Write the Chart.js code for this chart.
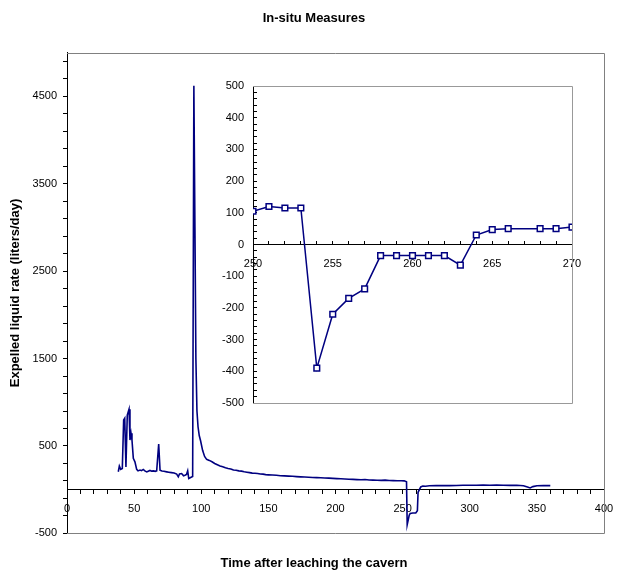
<!DOCTYPE html>
<html><head><meta charset="utf-8">
<script src="https://cdn.jsdelivr.net/npm/chart.js@4/dist/chart.umd.min.js"></script>
<style>
html,body{margin:0;padding:0;background:#fff;}
#wrap{position:relative;width:620px;height:579px;overflow:hidden;}
#main{position:absolute;left:0;top:0;}
#inset{position:absolute;left:215px;top:76px;}
</style></head><body>
<div id="wrap"><canvas id="main" width="620" height="579"></canvas><canvas id="inset" width="375" height="340"></canvas></div>
<script>
// ---- data ----
const mainTimes = [38.2,39.0,40.0,41.2,42.2,43.0,43.9,44.9,46.2,46.9,47.7,48.4,49.4,50.6,51.9,52.9,54.4,55.5,56.8,58.0,59.4,60.5,61.8,63.0,64.5,65.7,66.8,68.3,69.3,70.7,72.2,74.3,75.8,77.8,79.8,81.7,82.9,83.8,85.4,86.8,87.9,89.0,89.9,90.7,92.1,93.6,94.5,95.3,96.0,96.8,97.6,98.5,99.5,101.0,102.5,104.0,106.0,108.0,110.0,112.0,114.0,116.0,118.0,120.0,122.0,124.0,126.0,128.0,130.0,132.0,134.0,136.0,138.0,140.0,142.0,144.0,146.0,148.0,150.0,153.0,156.0,159.0,162.0,165.0,168.0,171.0,174.0,177.0,180.0,183.0,186.0,189.0,192.0,195.0,198.0,201.0,204.0,207.0,210.0,213.0,216.0,219.0,222.0,225.0,228.0,231.0,234.0,237.0,240.0,243.0,246.0,249.0,251.2,252.9,253.4,254.9,255.6,257.5,259.8,261.0,261.5,263.5,265,267,270,275,280,285,290,295,300,305,310,315,320,325,330,335,340,343,345,347,350,355,360];
const mainRates = [205,270,232,243,797,817,261,854,920,568,645,568,358,319,232,215,224,218,232,215,204,212,220,212,215,210,216,522,224,214,210,204,200,195,190,178,147,180,185,160,166,175,216,128,139,150,4620,3000,1500,900,720,620,560,450,380,347,335,320,300,285,270,262,250,243,237,225,222,215,212,205,200,195,190,188,185,180,178,172,170,168,165,160,158,155,153,150,147,145,143,140,138,137,134,132,129,127,125,122,120,118,115,113,116,110,109,108,107,109,106,104,103,102,101,90,-400,-292,-273,-266,-266,-240,-30,32,42,40,45,47,48,46,48,50,51,50,52,50,52,51,49,50,45,30,20,35,45,48,47];
const insetDays = [250,251,252,253,254,255,256,257,258,259,260,261,262,263,264,265,266,268,269,270];
const insetRates = [105,120,115,115,-390,-220,-170,-140,-35,-35,-35,-35,-35,-65,30,47,50,50,50,55];
const mainXLabels = [0,50,100,150,200,250,300,350,400];
const mainYLabels = [-500,500,1500,2500,3500,4500];
const insetXLabels = [250,255,260,265,270];
const insetYLabels = [-500,-400,-300,-200,-100,0,100,200,300,400,500];

const NAVY = '#000080';
const FONT = "'Liberation Sans', Arial, sans-serif";
Chart.defaults.font.family = FONT;
Chart.defaults.color = '#000';

function stepTicks(min, max, step){ const t=[]; for(let v=min; v<=max+1e-9; v+=step) t.push({value: Math.round(v*1000)/1000}); return t; }
function noPad(s){ s.paddingLeft = 0; s.paddingRight = 0; s.paddingTop = 0; s.paddingBottom = 0; }

const frame = {
  id: 'frame',
  beforeDatasetsDraw(chart, args, opts){
    const {ctx, chartArea: a} = chart;
    ctx.save();
    ctx.strokeStyle = opts.color || '#808080';
    ctx.lineWidth = 1;
    ctx.beginPath();
    ctx.moveTo(a.left, Math.round(a.top)+0.5);
    ctx.lineTo(Math.round(a.right)+0.5, Math.round(a.top)+0.5);
    ctx.lineTo(Math.round(a.right)+0.5, Math.round(a.bottom)+0.5);
    if (opts.bottom) ctx.lineTo(a.left, Math.round(a.bottom)+0.5);
    ctx.stroke();
    ctx.restore();
  }
};

new Chart(document.getElementById('main'), {
  type: 'line',
  data: { datasets: [{
    data: mainTimes.map((t,i)=>({x:t, y:mainRates[i]})),
    borderColor: NAVY, borderWidth: 1.6, pointRadius: 0, tension: 0, fill: false
  }]},
  plugins: [frame],
  options: {
    responsive: false, animation: false, devicePixelRatio: 1,
    layout: { padding: { left: 8, right: 0, top: 0, bottom: 0 } },
    plugins: {
      legend: { display: false }, tooltip: { enabled: false },
      frame: { color: '#808080', bottom: true },
      title: { display: true, text: 'In-situ Measures', color: '#000',
        font: { size: 13, weight: 'bold', family: FONT }, padding: { top: 11, bottom: 26 } },
      subtitle: { display: true, position: 'bottom', text: 'Time after leaching the cavern', color: '#000',
        font: { size: 13, weight: 'bold', family: FONT }, padding: { top: 22, bottom: 8 } }
    },
    scales: {
      x: {
        type: 'linear', min: 0, max: 400, position: { y: 0 },
        afterBuildTicks: s => { s.ticks = stepTicks(0, 400, 10); },
        afterFit: s => { s.height = 0; noPad(s); },
        grid: { drawOnChartArea: false, drawTicks: true, tickLength: 4, color: '#000' },
        border: { display: true, color: '#000', width: 1 },
        ticks: { autoSkip: false, maxRotation: 0, padding: 9, font: { size: 11 },
          callback: v => mainXLabels.includes(v) ? String(v) : '' }
      },
      y: {
        type: 'linear', min: -500, max: 5000, position: 'left',
        afterBuildTicks: s => { s.ticks = stepTicks(-500, 4900, 200); },
        afterFit: s => { s.width = 59; noPad(s); },
        grid: { drawOnChartArea: false, drawTicks: true, tickLength: 4, color: '#000' },
        border: { display: true, color: '#000', width: 1 },
        title: { display: true, text: 'Expelled liquid rate (liters/day)', color: '#000',
          font: { size: 13, weight: 'bold', family: FONT }, padding: { top: 0, bottom: 0 } },
        ticks: { autoSkip: false, padding: 6, font: { size: 11 },
          callback: v => mainYLabels.includes(v) ? String(v) : '' }
      },
      yr: {
        type: 'linear', position: 'right', display: true,
        afterFit: s => { s.width = 16; noPad(s); },
        grid: { display: false, drawTicks: false }, border: { display: false },
        ticks: { display: false }
      }
    }
  }
});

new Chart(document.getElementById('inset'), {
  type: 'line',
  data: { datasets: [{
    data: insetDays.map((d,i)=>({x:d, y:insetRates[i]})),
    borderColor: NAVY, borderWidth: 1.5, tension: 0, fill: false,
    pointStyle: 'rect', pointRadius: 4, pointBorderWidth: 1.5,
    pointBackgroundColor: '#fff', pointBorderColor: NAVY
  }]},
  plugins: [frame],
  options: {
    responsive: false, animation: false, devicePixelRatio: 1,
    layout: { padding: { left: 0, right: 18, top: 10, bottom: 13 } },
    plugins: { legend: { display: false }, tooltip: { enabled: false },
      frame: { color: '#999', bottom: true } },
    scales: {
      x: {
        type: 'linear', min: 250, max: 270, position: { y: 0 },
        afterBuildTicks: s => { s.ticks = stepTicks(250, 270, 1); },
        afterFit: s => { s.height = 0; noPad(s); },
        grid: { drawOnChartArea: false, drawTicks: true, tickLength: -4, color: '#000' },
        border: { display: true, color: '#000', width: 1 },
        ticks: { autoSkip: false, maxRotation: 0, padding: 17, font: { size: 11 },
          callback: v => insetXLabels.includes(v) ? String(v) : '' }
      },
      y: {
        type: 'linear', min: -500, max: 500, position: 'left',
        afterBuildTicks: s => { s.ticks = stepTicks(-500, 500, 20); },
        afterFit: s => { s.width = 38; noPad(s); },
        grid: { drawOnChartArea: false, drawTicks: true, tickLength: -4, color: '#000' },
        border: { display: true, color: '#000', width: 1 },
        ticks: { autoSkip: false, padding: 13, font: { size: 11 },
          callback: v => insetYLabels.includes(v) ? String(v) : '' }
      }
    }
  }
});
</script>
</body></html>
